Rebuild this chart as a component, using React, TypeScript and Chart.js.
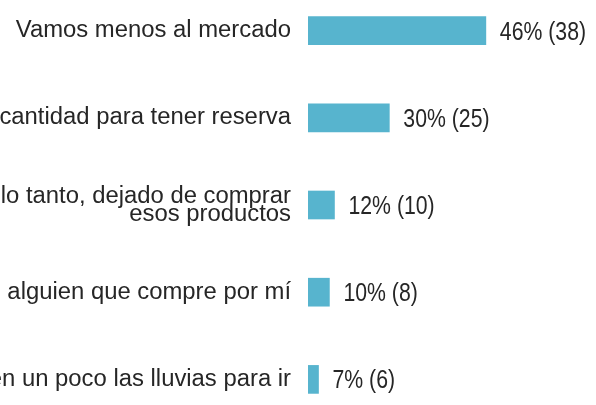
import React, { useEffect, useRef } from "react";
import { Chart, registerables } from "chart.js";

Chart.register(...registerables);

// Category labels (left part is cropped in the reference)
const categories: (string | string[])[] = [
  "Vamos menos al mercado",
  "cantidad para tener reserva",
  ["lo tanto, dejado de comprar", "esos productos"],
  "alguien que compre por mí",
  "en un poco las lluvias para ir",
];

// Percentages and counts shown in the value labels
const percents = [46, 30, 12, 10, 7];
const counts = [38, 25, 10, 8, 6];

// Bar lengths as drawn in the picture (in % units of the first bar)
const barLengths = [45.7, 20.9, 6.8, 5.5, 2.7];

const BAR_COLOR = "#57b4ce";
const TEXT_COLOR = "#262626";

const valueLabelPlugin = {
  id: "valueLabels",
  afterDatasetsDraw(chart: any) {
    const ctx = chart.ctx;
    const meta = chart.getDatasetMeta(0);
    ctx.save();
    ctx.fillStyle = TEXT_COLOR;
    ctx.font = '25px "Liberation Sans", Arial, sans-serif';
    ctx.textAlign = "left";
    ctx.textBaseline = "alphabetic";
    meta.data.forEach((bar: any, i: number) => {
      const text = `${percents[i]}% (${counts[i]})`;
      const x = bar.x + 14;
      const y = bar.y + 9;
      ctx.save();
      ctx.translate(x, y);
      ctx.scale(0.85, 1);
      ctx.fillText(text, 0, 0);
      ctx.restore();
    });
    ctx.restore();
  },
};

export default function App() {
  const canvasRef = useRef<HTMLCanvasElement | null>(null);

  useEffect(() => {
    if (!canvasRef.current) return;
    const chart = new Chart(canvasRef.current, {
      type: "bar",
      data: {
        labels: categories as any,
        datasets: [
          {
            data: barLengths,
            backgroundColor: BAR_COLOR,
            borderWidth: 0,
            barThickness: 28,
          },
        ],
      },
      options: {
        indexAxis: "y",
        animation: false,
        responsive: true,
        maintainAspectRatio: false,
        layout: { padding: 0 },
        plugins: {
          legend: { display: false },
          tooltip: { enabled: false },
          title: { display: false },
        },
        scales: {
          x: {
            display: false,
            min: 0,
            max: 74,
          },
          y: {
            grid: { display: false, drawTicks: false },
            border: { display: false },
            ticks: {
              color: TEXT_COLOR,
              padding: 17,
              font: {
                family: '"Liberation Sans", Arial, sans-serif',
                size: 23.85,
                lineHeight: 0.76,
              },
            },
            afterFit(scale: any) {
              scale.width = 348;
              scale.paddingTop = 0;
              scale.paddingBottom = 0;
            },
          },
        },
      },
      plugins: [valueLabelPlugin],
    });
    return () => chart.destroy();
  }, []);

  return (
    <div
      style={{
        position: "fixed",
        top: 0,
        left: 0,
        width: 596,
        height: 405,
        overflow: "hidden",
        background: "#ffffff",
      }}
    >
      <div
        style={{
          position: "absolute",
          top: -13,
          left: -40,
          width: 636,
          height: 436,
        }}
      >
        <canvas ref={canvasRef} />
      </div>
    </div>
  );
}
